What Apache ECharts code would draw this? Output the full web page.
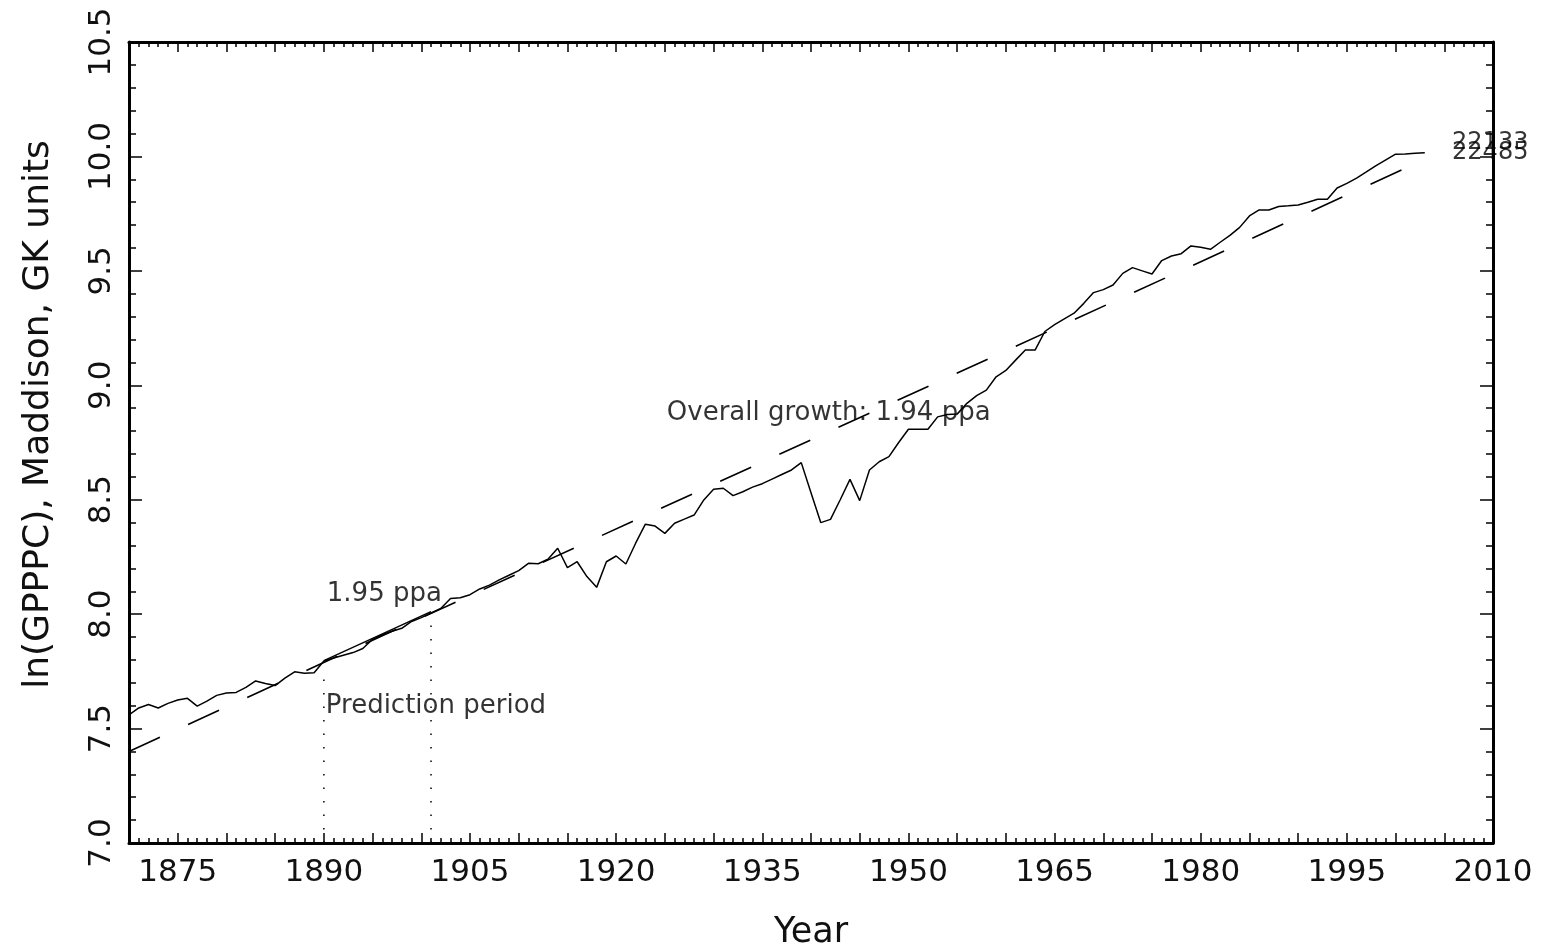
<!DOCTYPE html>
<html>
<head>
<meta charset="utf-8">
<script src="https://cdn.jsdelivr.net/npm/echarts@6/dist/echarts.min.js"></script>
<style>
html,body{margin:0;padding:0;background:#fff;}
#chart{width:1542px;height:949px;}
</style>
</head>
<body>
<div id="chart"></div>
<script>
// ---- data ----
const firstYear = 1870;
const lnGdp = [
  7.56, 7.59, 7.605, 7.59, 7.61, 7.625, 7.632, 7.598, 7.62, 7.645,
  7.655, 7.658, 7.68, 7.708, 7.697, 7.688, 7.72, 7.748, 7.742, 7.744,
  7.795, 7.808, 7.82, 7.832, 7.85, 7.89, 7.91, 7.925, 7.938, 7.968,
  7.985, 8.005, 8.025, 8.068, 8.072, 8.085, 8.11, 8.127, 8.15, 8.17,
  8.19, 8.222, 8.22, 8.24, 8.288, 8.203, 8.229, 8.164, 8.117, 8.229,
  8.254, 8.219, 8.31, 8.393, 8.385, 8.353, 8.397, 8.415, 8.433, 8.499,
  8.546, 8.55, 8.518, 8.535, 8.555, 8.57, 8.59, 8.61, 8.63, 8.662,
  8.53, 8.40, 8.414, 8.50, 8.589, 8.496, 8.63, 8.666, 8.688, 8.75,
  8.808, 8.808, 8.808, 8.862, 8.872, 8.874, 8.921, 8.955, 8.979, 9.037,
  9.065, 9.11, 9.154, 9.154, 9.235, 9.265, 9.29, 9.315, 9.358, 9.405,
  9.418, 9.438, 9.489, 9.514, 9.50, 9.486, 9.545, 9.565, 9.575, 9.609,
  9.603, 9.594, 9.625, 9.655, 9.69, 9.74, 9.766, 9.766, 9.781, 9.784,
  9.788, 9.80, 9.813, 9.813, 9.862, 9.882, 9.905, 9.932, 9.96, 9.985,
  10.01, 10.011, 10.014, 10.016
];
const years = lnGdp.map((v, i) => firstYear + i);
// overall trend line endpoints
const trendPoints = [[1870, 7.40], [2003, 9.987]];
// prediction-period fit endpoints
const predPoints = [[1890, 7.797], [1901, 8.011]];
// dotted markers of the prediction period
const dotLine1 = [[1890, 7.0], [1890, 7.725]];
const dotLine2 = [[1901, 7.0], [1901, 7.967]];
// annotation texts [year, value, text]
const annotations = [
  [1925.2, 8.879, 'Overall growth: 1.94 ppa'],
  [1890.3, 8.088, '1.95 ppa'],
  [1890.2, 7.599, 'Prediction period']
];
const endLabels = [
  [2005.8, 10.061, '22133'],
  [2005.8, 10.017, '22485']
];
const xTickLabels = [1875, 1890, 1905, 1920, 1935, 1950, 1965, 1980, 1995, 2010];
const xTitle = 'Year';
const yTitle = 'ln(GPPPC), Maddison, GK units';

const FONT = "'DejaVu Sans', sans-serif";
const chart = echarts.init(document.getElementById('chart'), null, {renderer: 'canvas'});

const axisLine = {show: true, lineStyle: {color: '#000', width: 3}};
function xAxisBase(pos, showLabel) {
  return {
    type: 'value', position: pos, min: 1870, max: 2010, interval: 5,
    axisLine: axisLine,
    axisTick: {show: true, inside: true, length: 10, lineStyle: {color: '#000', width: 1.5}},
    minorTick: {show: true, splitNumber: 5, length: 5, lineStyle: {color: '#000', width: 1.5}},
    splitLine: {show: false},
    axisLabel: {
      show: showLabel, margin: 14, color: '#111', fontFamily: FONT, fontSize: 31,
      formatter: v => xTickLabels.indexOf(v) >= 0 ? String(v) : ''
    }
  };
}
function yAxisBase(pos, showLabel) {
  return {
    type: 'value', position: pos, min: 7, max: 10.5, interval: 0.5,
    axisLine: axisLine,
    axisTick: {show: true, inside: true, length: 13, lineStyle: {color: '#000', width: 1.5}},
    minorTick: {show: true, splitNumber: 5, length: 7, lineStyle: {color: '#000', width: 1.5}},
    splitLine: {show: false},
    axisLabel: {
      show: showLabel, rotate: 90, margin: 12, color: '#111', fontFamily: FONT, fontSize: 31,
      formatter: v => v.toFixed(1)
    }
  };
}

const xBottom = Object.assign(xAxisBase('bottom', true), {
  name: xTitle, nameLocation: 'middle', nameGap: 72,
  nameTextStyle: {color: '#111', fontFamily: FONT, fontSize: 35}
});
const yLeft = Object.assign(yAxisBase('left', true), {
  name: yTitle, nameLocation: 'middle', nameGap: 72,
  nameTextStyle: {color: '#111', fontFamily: FONT, fontSize: 36, padding: [0, 0, 0, 56]}
});

const labelStyle = (size) => ({
  show: true, position: 'right', distance: 0, color: '#000',
  fontFamily: FONT, fontSize: size,
  formatter: p => p.value[2]
});

chart.setOption({
  animation: false,
  backgroundColor: '#fff',
  grid: {left: 129, right: 49, top: 42, bottom: 106, containLabel: false, outerBoundsMode: 'none'},
  xAxis: [xBottom, xAxisBase('top', false)],
  yAxis: [yLeft, yAxisBase('right', false)],
  series: [
    {
      type: 'line', name: 'ln GPPPC', symbol: 'none',
      data: years.map((y, i) => [y, lnGdp[i]]),
      lineStyle: {color: '#000', width: 1.5}
    },
    {
      type: 'line', name: 'trend', symbol: 'none', data: trendPoints,
      lineStyle: {color: '#000', width: 1.6, type: [34, 31]}
    },
    {
      type: 'line', name: 'prediction fit', symbol: 'none', data: predPoints,
      lineStyle: {color: '#000', width: 1.5}
    },
    {
      type: 'line', symbol: 'none', data: dotLine1,
      lineStyle: {color: '#000', width: 1.5, type: [1.5, 12]}
    },
    {
      type: 'line', symbol: 'none', data: dotLine2,
      lineStyle: {color: '#000', width: 1.5, type: [1.5, 12]}
    },
    {
      type: 'scatter', symbolSize: 0, data: annotations,
      label: labelStyle(26), silent: true
    },
    {
      type: 'scatter', symbolSize: 0, data: endLabels,
      label: labelStyle(24), silent: true
    }
  ]
});
</script>
</body>
</html>
